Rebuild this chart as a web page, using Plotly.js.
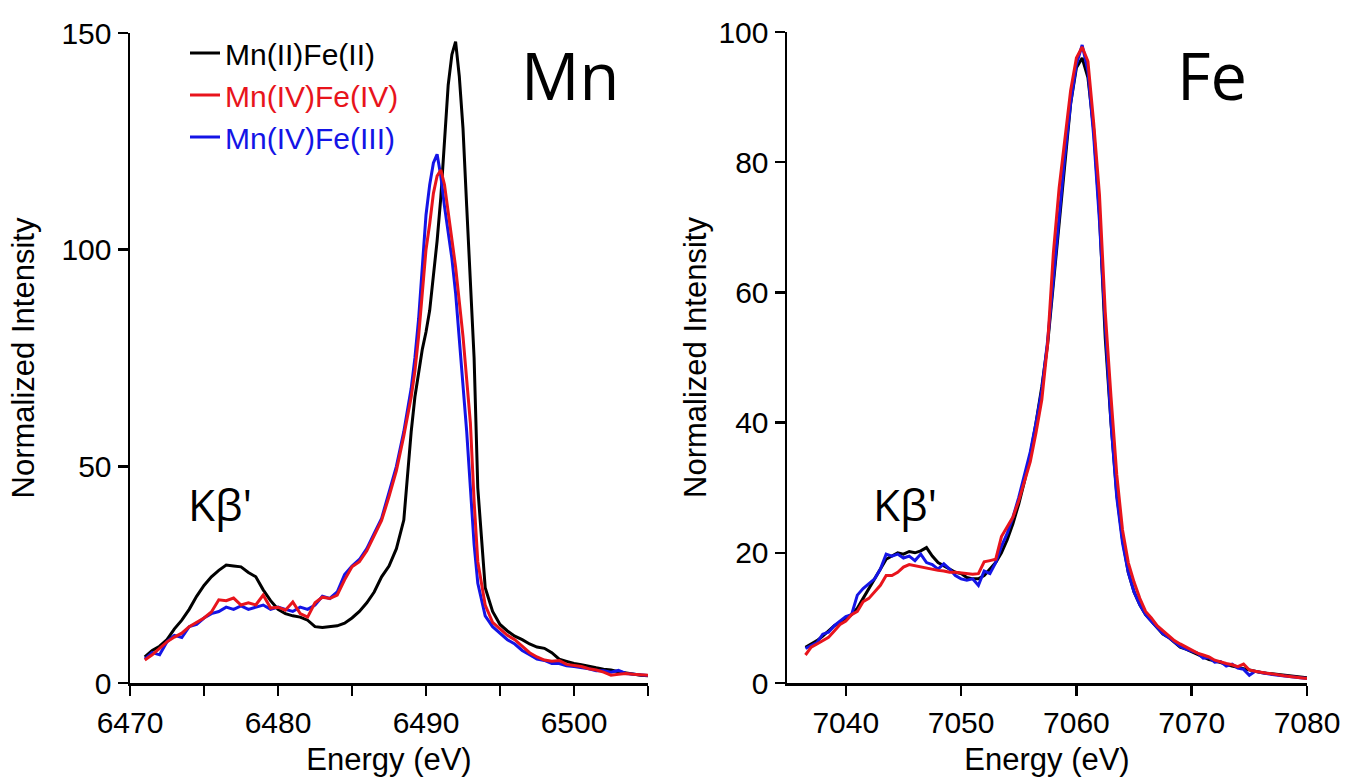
<!DOCTYPE html>
<html>
<head>
<meta charset="utf-8">
<script src="https://cdn.plot.ly/plotly-3.0.1.min.js"></script>
<style>html,body{margin:0;padding:0;background:#fff;}#chart{width:1348px;height:781px;}</style>
</head>
<body>
<div id="chart"></div>
<script>
// ---------- Mn panel data ----------
const mnEnergy = [
  6471,6471.5,6472,6472.5,6473,6473.5,6474,6474.5,6475,6475.5,6476,6476.5,6477,6477.5,6478,6478.5,6479,6479.5,6480,6480.5,
  6481,6481.5,6482,6482.5,6483,6483.5,6484,6484.5,6485,6485.5,6486,6486.5,6487,6487.5,6488,6488.5,6489,
  6489.25,6489.5,6489.75,6490,6490.25,6490.5,6490.75,6491,6491.25,6491.5,6491.75,6492,6492.25,6492.5,6492.75,6493,6493.25,6493.5,
  6494,6494.5,6495,6495.5,6496,6496.5,6497,6497.5,6498,6498.5,6499,6499.5,6500,6500.5,6501,6501.5,6502,6502.5,6503,6503.5,6504,6504.5,6505
];
const mnII_FeII = [
  6.0,7.5,8.5,10,12.5,14.5,17,20,22.5,24.5,26,27.2,27,26.8,25.5,24.5,21.5,19,17,16,
  15.5,15.2,14.5,13,12.8,13,13.2,13.8,15,16.5,18.5,21,24.5,27,31,37.6,58,
  66,72,77,81,86,94,102,112,125,138,145,148,140,128,110,93,75,45,
  22,16.5,13.5,12,10.8,10,9,8.3,8,7,5.5,5,4.5,4.2,3.8,3.5,3.2,3,2.6,2.3,2,1.8,1.7
];
const mnIV_FeIV = [
  5.3,6.5,8,9.5,10.6,11.5,13,14,15,16.4,19.2,19,19.6,18,18.5,18,20.3,17.3,17.5,16.8,
  18.7,16,15.2,18.5,19.8,19.5,20.3,23.8,26.8,28,30.5,34,37.5,43,49,57,66,
  72,80,90,100,106,113,117,118.4,115,109,103,96,88,80,70,60,42,28,
  18,14,12.5,11,10,8.5,7,6,5.3,5,5.2,4.3,4,3.8,3.3,3,2.5,1.8,2,2.2,2,1.9,1.8
];
const mnIV_FeIII = [
  5.5,7,6.5,9.5,11,10.5,13,13.5,15,16,16.5,17.5,17,17.8,17,17.5,18,17,17.5,17,
  16.5,17.5,17,18,20,19.5,21,25,27,28.5,31,34.5,38,44,50,58,68,
  75,84,96,108,115,120,122,117,110,104,98,90,80,70,58,45,32,23,
  15.5,13,11.5,10,9,7.5,6.5,5.5,5.2,4.5,4.5,4,3.8,3.5,3.3,2.8,2.8,2.5,2.9,2.2,2,1.8,1.7
];

// ---------- Fe panel data ----------
const feEnergy = [
  7036.5,7037,7037.5,7038,7038.5,7039,7039.5,7040,7040.5,7041,7041.5,7042,7042.5,7043,7043.5,7044,7044.5,7045,7045.5,7046,
  7046.5,7047,7047.5,7048,7048.5,7049,7049.5,7050,7050.5,7051,7051.5,7052,7052.5,7053,7053.5,7054,7054.5,7055,7055.5,7056,
  7056.5,7057,7057.5,7058,7058.5,7059,7059.5,7060,7060.5,7061,7061.5,7062,7062.5,7063,7063.5,7064,7064.5,7065,7065.5,7066,
  7066.5,7067,7067.5,7068,7068.5,7069,7069.5,7070,7070.5,7071,7071.5,7072,7072.5,7073,7073.5,7074,7074.5,7075,7075.5,7076,
  7076.5,7077,7077.5,7078,7078.5,7079,7079.5,7080
];
const feII_black = [
  5.5,6,6.5,7.2,8,8.8,9.3,10,10.5,11.5,13,14.5,16,17.5,19,19.5,20,19.8,20.2,20,
  20.3,20.8,19.5,18.5,18,17.5,17,16.8,16.2,16,16,16.5,17.5,18.5,20,22,24.5,27.5,31,35,
  40,45.5,52,61,71,80,89,94.5,96,93,85,72,53,40,29,22,17,14,12,10.5,
  9.5,8.5,7.5,7,6.2,5.5,5.2,4.8,4.3,4,3.6,3.4,3.1,2.8,2.6,2.4,2.2,1.9,1.7,1.6,
  1.5,1.4,1.3,1.2,1.1,1,0.9,0.8
];
const feIV_red = [
  4.3,5.5,6,6.5,7,8,9,9.5,10.5,11,12.5,13,14,15,16.5,16.5,17,17.8,18.2,18,
  17.8,17.6,17.5,17.3,17.2,17,17,16.9,16.8,16.7,16.8,18.6,18.8,19,22.5,24,25.5,28,31,34,
  38.5,43.5,52,66,76,84,91,96,97.7,95.5,86,75,57,44,32,23.5,18.5,15.5,13,11,
  10,8.8,8,7.2,6.5,6,5.5,5,4.6,4.3,4,3.5,3.2,3,2.8,2.5,2.9,2,1.8,1.6,
  1.5,1.4,1.2,1.1,1,0.9,0.8,0.7
];
const feIII_blue = [
  5.3,5.8,6.2,7.5,7.8,8.8,9.5,10.2,10.5,13.5,14.5,15.2,16,17.5,19.8,19.5,19.8,19.2,19.5,18.8,
  19.8,18.5,18.2,17.5,18.3,17.5,16.5,16,15.8,16,15,17.2,16.8,18.5,21,23,25.5,28.5,32,35.5,
  40,45,52.5,62,72,81,89,95,98,94,84,71,55,40,28.5,21.5,17,14,12,10.5,
  9.5,8.5,7.6,7,6.3,5.6,5.2,4.9,4.6,3.8,3.9,3.2,3.3,2.6,2.9,2.3,2.1,1.2,1.8,1.6,
  1.4,1.3,1.2,1.1,1,0.9,0.8,0.7
];

const seriesNames = ['Mn(II)Fe(II)', 'Mn(IV)Fe(IV)', 'Mn(IV)Fe(III)'];
const seriesColors = ['#000000', '#e8141c', '#1414e6'];

const FONT = 'Liberation Sans, Arial, sans-serif';
const ANN_FONT = 'Open Sans, sans-serif';

function lineTrace(x, y, idx, xa, ya, show) {
  return {
    x: x, y: y, type: 'scatter', mode: 'lines',
    name: '<span style="color:' + seriesColors[idx] + '">' + seriesNames[idx] + '</span>',
    line: {color: seriesColors[idx], width: 3},
    xaxis: xa, yaxis: ya, showlegend: show,
    legendgroup: 'g' + idx, legendrank: idx + 1, hoverinfo: 'skip'
  };
}

const data = [
  lineTrace(mnEnergy, mnII_FeII, 0, 'x', 'y', true),
  lineTrace(mnEnergy, mnIV_FeIII, 2, 'x', 'y', true),
  lineTrace(mnEnergy, mnIV_FeIV, 1, 'x', 'y', true),
  lineTrace(feEnergy, feII_black, 0, 'x2', 'y2', false),
  lineTrace(feEnergy, feIII_blue, 2, 'x2', 'y2', false),
  lineTrace(feEnergy, feIV_red, 1, 'x2', 'y2', false)
];

const axisCommon = {
  showline: true, linecolor: '#000', linewidth: 2.5, mirror: false,
  ticks: 'outside', ticklen: 10, tickwidth: 2.5, tickcolor: '#000',
  showgrid: false, zeroline: false,
  tickfont: {family: FONT, size: 30, color: '#000'},
  fixedrange: true
};
const titleFont = {family: FONT, size: 31, color: '#000'};

const layout = {
  width: 1348, height: 781,
  margin: {l: 0, r: 0, t: 0, b: 0},
  paper_bgcolor: '#fff', plot_bgcolor: '#fff',
  showlegend: true,
  legend: {
    x: 185/1348, y: (781-27)/781, xanchor: 'left', yanchor: 'top',
    bgcolor: 'rgba(0,0,0,0)', borderwidth: 0,
    font: {family: FONT, size: 30, color: '#000'},
    tracegroupgap: 0, traceorder: 'grouped'
  },
  xaxis: Object.assign({}, axisCommon, {
    domain: [130/1348, 648/1348], range: [6470, 6505], tick0: 6470, dtick: 10, anchor: 'y',
    minor: {dtick: 5, ticks: 'outside', ticklen: 10, tickwidth: 2.5, tickcolor: '#000', showgrid: false},
    ticklabelstandoff: 1,
    title: {text: 'Energy (eV)', font: titleFont, standoff: 11}
  }),
  yaxis: Object.assign({}, axisCommon, {
    domain: [(781-683)/781, (781-33)/781], range: [0, 150], tick0: 0, dtick: 50, anchor: 'x',
    title: {text: 'Normalized Intensity', font: titleFont, standoff: 18}
  }),
  xaxis2: Object.assign({}, axisCommon, {
    domain: [787/1348, 1307/1348], range: [7034.9, 7080], tick0: 7040, dtick: 10, anchor: 'y2',
    ticklabelstandoff: 1,
    title: {text: 'Energy (eV)', font: titleFont, standoff: 11}
  }),
  yaxis2: Object.assign({}, axisCommon, {
    domain: [(781-683)/781, (781-32)/781], range: [0, 100], tick0: 0, dtick: 20, anchor: 'x2',
    title: {text: 'Normalized Intensity', font: titleFont, standoff: 3}
  }),
  annotations: [
    {text: 'Mn', xref: 'paper', yref: 'paper', x: 570/1348, y: (781-75)/781, xanchor: 'center', yanchor: 'middle',
     showarrow: false, font: {family: ANN_FONT, size: 65, color: '#000'}},
    {text: 'Fe', xref: 'paper', yref: 'paper', x: 1212/1348, y: (781-75)/781, xanchor: 'center', yanchor: 'middle',
     showarrow: false, font: {family: ANN_FONT, size: 65, color: '#000'}},
    {text: "Kβ'", xref: 'paper', yref: 'paper', x: 220/1348, y: (781-504)/781, xanchor: 'center', yanchor: 'middle',
     showarrow: false, font: {family: ANN_FONT, size: 44, color: '#000'}},
    {text: "Kβ'", xref: 'paper', yref: 'paper', x: 905/1348, y: (781-504)/781, xanchor: 'center', yanchor: 'middle',
     showarrow: false, font: {family: ANN_FONT, size: 44, color: '#000'}}
  ]
};

Plotly.newPlot('chart', data, layout, {displayModeBar: false, staticPlot: true});
</script>
</body>
</html>
